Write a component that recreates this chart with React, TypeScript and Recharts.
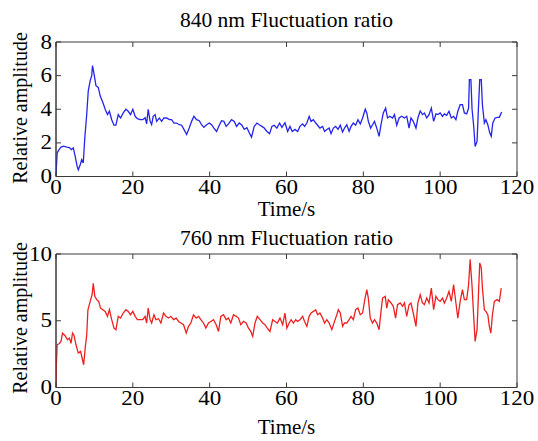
import React from 'react';
import { LineChart, Line, XAxis, YAxis, ReferenceArea } from 'recharts';

const FONT = '"Liberation Serif", "Times New Roman", serif';

const title840 = '840 nm Fluctuation ratio';
const title760 = '760 nm Fluctuation ratio';
const xLabel = 'Time/s';
const yLabel = 'Relative amplitude';

const xTicks = [0, 20, 40, 60, 80, 100, 120];
const yTicks840 = [0, 2, 4, 6, 8];
const yTicks760 = [0, 5, 10];

const times840 = [
  0, 0.3, 0.8, 1.3, 2, 2.8, 3.5, 4, 4.5, 5,
  5.5, 5.8, 6.3, 6.7, 7.1, 7.5, 8, 8.4, 8.9, 9.3,
  9.5, 9.9, 10.4, 11, 11.5, 12.2, 12.8, 13.4, 13.9, 14.5,
  15.1, 15.6, 16.2, 16.8, 17.5, 18.2, 18.8, 19.4, 20, 20.6,
  21.2, 21.9, 22.6, 23.2, 23.6, 24, 24.5, 24.9, 25.3, 25.8,
  26.2, 26.9, 27.5, 28.1, 28.8, 29.5, 30.1, 30.7, 31.4, 32.1,
  32.7, 33.3, 34, 34.7, 35.3, 35.9, 36.6, 37.3, 37.9, 38.5,
  39.2, 39.9, 40.5, 41.1, 41.8, 42.5, 43.1, 43.7, 44.3, 44.9,
  45.7, 46.4, 47, 47.7, 48.4, 49, 49.7, 50.3, 50.9, 51.6,
  52.3, 52.9, 53.6, 54.2, 54.9, 55.6, 56.2, 56.8, 57.5, 58.2,
  58.8, 59.6, 60.3, 60.9, 61.5, 62.2, 62.9, 63.5, 64.2, 64.7,
  65.3, 65.9, 66.4, 67, 67.6, 68.1, 68.7, 69.4, 69.9, 70.5,
  71.1, 71.6, 72.2, 72.8, 73.4, 74, 74.6, 75.1, 75.7, 76.3,
  76.8, 77.4, 78, 78.6, 79.2, 79.8, 80.5, 80.9, 81.3, 81.9,
  82.4, 82.9, 83.5, 84.1, 84.6, 85.2, 85.8, 86.3, 86.9, 87.6,
  88.1, 88.7, 89.3, 90, 90.7, 91.3, 91.9, 92.4, 93, 93.7,
  94.2, 94.8, 95.4, 95.9, 96.5, 97.1, 97.7, 98.3, 98.9, 99.4,
  100, 100.6, 101.1, 101.7, 102.3, 102.9, 103.5, 104.1, 104.6, 105.2,
  105.8, 106.3, 106.9, 107.4, 107.6, 108, 108.3, 108.7, 109.1, 109.6,
  110, 110.3, 110.7, 111, 111.5, 111.9, 112.4, 112.9, 113.3, 113.7,
  114.3, 114.9, 115.4, 116,
];

const ratio840 = [
  0.1, 1.4, 1.6, 1.75, 1.8, 1.75, 1.72, 1.6, 1.7, 1.2,
  0.6, 0.4, 0.7, 1.0, 0.8, 2.3, 3.7, 5.1, 5.7, 6.0,
  6.6, 6.1, 5.4, 5.3, 4.8, 4.4, 4.0, 3.68, 3.88, 3.38,
  3.05, 3.05, 3.68, 3.48, 3.78, 4.0, 3.88, 3.68, 4.0, 3.58,
  3.44, 3.38, 3.38, 3.5, 3.13, 4.0, 3.28, 3.08, 3.58, 3.68,
  3.28, 3.48, 3.28, 3.48, 3.48, 3.38, 3.38, 3.18, 3.18, 3.08,
  3.05, 2.8, 2.5, 2.9, 3.28, 3.58, 3.38, 3.32, 3.08, 2.92,
  3.08, 3.18, 3.08, 2.88, 2.68, 3.05, 3.32, 3.28, 2.98, 3.13,
  3.38, 3.28, 2.98, 3.18, 3.05, 2.8, 2.9, 2.6, 2.34, 2.98,
  3.18, 3.08, 2.98, 2.88, 2.68, 2.55, 2.98, 3.05, 2.88, 3.18,
  2.92, 3.2, 2.68, 2.98, 2.68, 2.8, 2.68, 2.98, 3.13, 2.98,
  3.18, 3.58, 3.28, 3.38, 3.18, 3.05, 2.88, 2.98, 2.68, 2.8,
  2.88, 2.55, 2.88, 2.98, 2.8, 3.05, 2.64, 2.88, 3.08, 2.68,
  2.98, 3.18, 3.05, 3.38, 3.13, 3.48, 4.0, 3.78, 3.28, 2.88,
  3.08, 3.28, 2.88, 2.39, 3.08, 3.78, 4.07, 3.48, 3.58, 3.48,
  3.68, 3.05, 3.48, 3.58, 3.48, 3.58, 2.88, 3.48, 3.28, 2.88,
  3.48, 3.9, 3.68, 3.78, 3.48, 3.68, 4.07, 3.28, 3.72, 3.68,
  3.78, 3.58, 3.72, 3.64, 3.88, 3.48, 3.58, 3.38, 3.88, 4.27,
  4.27, 3.78, 3.72, 4.07, 5.76, 5.76, 4.0, 3.08, 1.79, 2.09,
  4.27, 5.76, 5.76, 4.27, 3.18, 3.38, 3.08, 2.6, 2.39, 3.18,
  3.48, 3.52, 3.52, 3.84,
];

const times760 = [
  0, 0.1, 0.3, 0.9, 1.3, 1.7, 2.3, 3, 3.5, 3.9,
  4.3, 4.7, 5.2, 5.8, 6.4, 6.9, 7.2, 7.6, 8, 8.3,
  8.9, 9.4, 9.7, 10.1, 10.6, 11.1, 11.6, 12.2, 12.8, 13.4,
  13.9, 14.5, 15.1, 15.6, 16.2, 16.8, 17.5, 18.2, 18.8, 19.4,
  20, 20.6, 21.2, 21.9, 22.6, 23.2, 23.6, 24, 24.5, 24.9,
  25.5, 26, 26.7, 27.3, 28, 28.6, 29.3, 29.9, 30.6, 31.3,
  31.9, 32.5, 33.2, 33.9, 34.5, 35.1, 35.8, 36.5, 37.1, 37.7,
  38.4, 39, 39.7, 40.3, 41, 41.7, 42.3, 42.9, 43.6, 44.3,
  44.9, 45.5, 46.2, 46.9, 47.5, 48.1, 48.8, 49.5, 50.1, 50.7,
  51.2, 51.8, 52.4, 53.1, 53.8, 54.4, 55, 55.7, 56.4, 57,
  57.6, 58.3, 59, 59.6, 60.1, 60.7, 61.2, 61.8, 62.4, 62.9,
  63.5, 64.2, 64.7, 65.3, 65.9, 66.4, 67, 67.6, 68.1, 68.7,
  69.4, 69.9, 70.5, 71.1, 71.8, 72.5, 73.1, 73.5, 74, 74.6,
  75.1, 75.7, 76.3, 76.8, 77.4, 78, 78.6, 79.2, 79.8, 80.3,
  80.9, 81.3, 81.8, 82.4, 82.9, 83.5, 84.1, 84.6, 85, 85.7,
  86.1, 86.5, 87.2, 87.8, 88.4, 88.9, 89.6, 90.2, 90.7, 91.3,
  91.9, 92.4, 93, 93.7, 94.2, 94.8, 95.4, 95.9, 96.5, 97.1,
  97.7, 98.3, 98.9, 99.4, 100, 100.6, 101.1, 101.7, 102.3, 102.9,
  103.5, 104.1, 104.6, 105.2, 105.8, 106.3, 106.9, 107.4, 107.8, 108.3,
  108.7, 109.1, 109.6, 110, 110.3, 110.7, 111, 111.5, 111.9, 112.4,
  112.8, 113.2, 113.6, 114.1, 114.8, 115.4, 115.9,
];

const ratio760 = [
  0.07, 1.7, 3.2, 3.3, 3.45, 4.08, 3.9, 3.58, 3.7, 3.3,
  4.08, 3.9, 3.2, 2.58, 2.7, 2.08, 1.7, 2.95, 3.95, 5.8,
  6.45, 6.95, 7.8, 6.83, 6.58, 6.45, 5.95, 5.83, 5.7, 5.33,
  5.83, 5.08, 4.45, 4.33, 5.33, 5.2, 5.58, 5.83, 5.7, 5.45,
  5.7, 5.33, 5.08, 5.08, 5.08, 5.33, 4.83, 5.95, 5.08, 4.83,
  5.45, 5.08, 5.15, 4.83, 5.58, 5.33, 5.2, 5.33, 5.08, 5.2,
  4.95, 4.83, 4.7, 4.08, 4.58, 4.83, 5.45, 5.2, 5.33, 5.08,
  4.83, 4.45, 4.83, 4.95, 5.08, 4.7, 4.2, 5.33, 5.45, 5.08,
  5.2, 4.83, 5.45, 5.33, 5.2, 4.7, 4.95, 4.83, 4.45, 4.2,
  3.83, 4.83, 5.33, 5.08, 4.83, 4.7, 4.45, 4.2, 5.08, 4.95,
  4.83, 5.2, 4.7, 5.58, 4.45, 4.83, 5.08, 4.83, 5.08, 4.95,
  5.08, 5.33, 4.95, 4.58, 5.33, 5.58, 5.7, 5.83, 5.45, 5.58,
  5.2, 4.83, 5.08, 4.83, 4.33, 4.95, 5.45, 5.83, 5.58, 4.58,
  4.83, 4.83, 5.08, 5.33, 5.08, 5.83, 5.95, 5.45, 5.58, 6.45,
  7.33, 6.7, 5.2, 4.83, 5.08, 4.83, 4.33, 5.7, 6.7, 6.83,
  5.95, 6.58, 6.33, 6.08, 5.2, 6.2, 6.33, 6.08, 6.33, 5.33,
  6.2, 6.33, 5.58, 4.58, 6.33, 6.95, 6.33, 6.2, 6.7, 6.33,
  7.45, 5.83, 6.83, 6.58, 6.45, 6.7, 6.33, 6.7, 7.2, 6.45,
  7.7, 6.33, 5.2, 6.45, 7.33, 6.58, 6.58, 7.7, 9.6, 7.58,
  5.45, 3.45, 4.33, 7.2, 9.33, 8.95, 7.45, 5.83, 5.7, 5.45,
  4.58, 4.08, 5.45, 6.45, 6.58, 6.45, 7.45,
];

const data840 = times840.map((t, i) => ({ t, v: ratio840[i] }));
const data760 = times760.map((t, i) => ({ t, v: ratio760[i] }));

const AXIS = '#3a3a3a';
const TICK_FS = 20;
const TICK_STRETCH = 1.15;
const CHART_W = 538;
const LEFT_W = 56;
const RIGHT_M = 21;
const PLOT_W = CHART_W - LEFT_W - RIGHT_M;

const makeBottomTick = (plotH: number) => (props: any) => {
  const { x, y, payload } = props;
  return (
    <g>
      <line x1={x} x2={x} y1={y} y2={y - 5} stroke={AXIS} strokeWidth={1} />
      <line x1={x} x2={x} y1={y - plotH} y2={y - plotH + 5} stroke={AXIS} strokeWidth={1} />
      <text
        transform={`translate(${x},${y + 17.5}) scale(${TICK_STRETCH},1)`}
        textAnchor="middle"
        fontFamily={FONT}
        fontSize={TICK_FS}
        fill="#000"
      >
        {payload.value}
      </text>
    </g>
  );
};

const LeftTick = (props: any) => {
  const { x, y, payload } = props;
  return (
    <g>
      <line x1={x} x2={x + 5} y1={y} y2={y} stroke={AXIS} strokeWidth={1} />
      <line x1={x + PLOT_W} x2={x + PLOT_W - 5} y1={y} y2={y} stroke={AXIS} strokeWidth={1} />
      <text
        transform={`translate(${x - 4},${y + 6.5}) scale(${TICK_STRETCH},1)`}
        textAnchor="end"
        fontFamily={FONT}
        fontSize={TICK_FS}
        fill="#000"
      >
        {payload.value}
      </text>
    </g>
  );
};

type PanelProps = {
  data: { t: number; v: number }[];
  yTicks: number[];
  yMax: number;
  color: string;
  height: number;
  top: number;
  bottomPad: number;
};

const Panel = ({ data, yTicks, yMax, color, height, top, bottomPad }: PanelProps) => {
  const plotH = height - top - bottomPad;
  const BottomTick = makeBottomTick(plotH);
  return (
    <LineChart
      width={CHART_W}
      height={height}
      data={data}
      margin={{ top, right: RIGHT_M, bottom: 0, left: 0 }}
    >
      <XAxis
        dataKey="t"
        type="number"
        domain={[0, 120]}
        ticks={xTicks}
        interval={0}
        height={bottomPad}
        tickSize={0}
        tickMargin={0}
        tickLine={false}
        axisLine={{ stroke: AXIS }}
        tick={<BottomTick />}
        allowDataOverflow
      />
      <YAxis
        type="number"
        domain={[0, yMax]}
        ticks={yTicks}
        interval={0}
        width={LEFT_W}
        tickSize={0}
        tickMargin={0}
        tickLine={false}
        axisLine={{ stroke: AXIS }}
        tick={<LeftTick />}
        allowDataOverflow
      />
      <ReferenceArea
        x1={0}
        x2={120}
        y1={0}
        y2={yMax}
        fill="none"
        fillOpacity={0}
        stroke={AXIS}
        strokeWidth={1}
        ifOverflow="visible"
      />
      <Line
        type="linear"
        dataKey="v"
        stroke={color}
        strokeWidth={1.3}
        dot={false}
        activeDot={false}
        isAnimationActive={false}
      />
    </LineChart>
  );
};

const textStyle: React.CSSProperties = {
  position: 'absolute',
  fontFamily: FONT,
  color: '#000',
  whiteSpace: 'nowrap',
  lineHeight: 1,
};

export default function App() {
  return (
    <div style={{ position: 'absolute', left: 0, top: 0, width: 538, height: 441, background: '#fff', overflow: 'hidden' }}>
      <div style={{ position: 'absolute', left: 0, top: 0 }}>
        <Panel data={data840} yTicks={yTicks840} yMax={8} color="#2424ee" height={220} top={42} bottomPad={43.5} />
      </div>
      <div style={{ position: 'absolute', left: 0, top: 220 }}>
        <Panel data={data760} yTicks={yTicks760} yMax={10} color="#ee2020" height={221} top={34} bottomPad={53.5} />
      </div>

      <div style={{ ...textStyle, left: 56, width: 461, top: 10, textAlign: 'center', fontSize: 21.5 }}>{title840}</div>
      <div style={{ ...textStyle, left: 56, width: 461, top: 228, textAlign: 'center', fontSize: 21.5 }}>{title760}</div>

      <div style={{ ...textStyle, left: 56, width: 461, top: 198.5, textAlign: 'center', fontSize: 21 }}>{xLabel}</div>
      <div style={{ ...textStyle, left: 56, width: 461, top: 417, textAlign: 'center', fontSize: 21 }}>{xLabel}</div>

      <div
        style={{
          ...textStyle,
          left: 19.5,
          top: 108,
          fontSize: 20,
          transform: 'translate(-50%, -50%) rotate(-90deg)',
        }}
      >
        {yLabel}
      </div>
      <div
        style={{
          ...textStyle,
          left: 19.5,
          top: 318,
          fontSize: 20,
          transform: 'translate(-50%, -50%) rotate(-90deg)',
        }}
      >
        {yLabel}
      </div>
    </div>
  );
}
